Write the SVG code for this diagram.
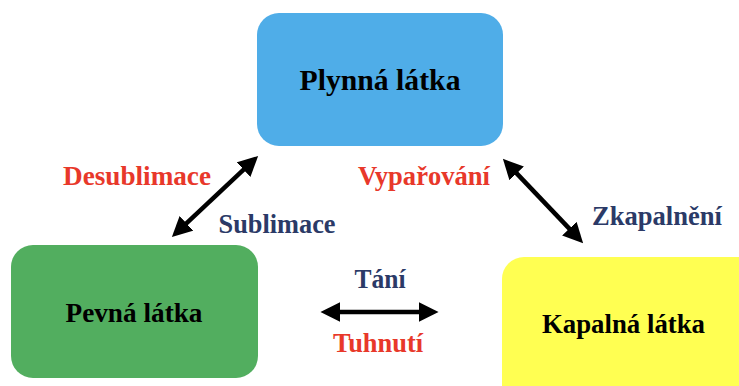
<svg xmlns="http://www.w3.org/2000/svg" width="739" height="386" viewBox="0 0 739 386">
<style>
.t{font-family:"Liberation Serif","Times New Roman",serif;font-weight:bold;text-anchor:middle}
.node{fill:#000;font-size:28px}
.red{fill:#E8382A;font-size:27px}
.navy{fill:#2B3A67;font-size:27px}
.arr{stroke:#000;stroke-width:4.5;fill:none}
</style>
<defs>
<marker id="ah" markerUnits="userSpaceOnUse" markerWidth="20" markerHeight="20" viewBox="0 0 18 18" refX="4" refY="9" orient="auto-start-reverse">
<path d="M0,0 L18,9 L0,18 z" fill="#000"/>
</marker>
</defs>
<rect width="739" height="386" fill="#fff"/>
<g id="plynna">
<rect x="257" y="13" width="246" height="133" rx="22" fill="#4FADE8"/>
<text class="t node" x="380" y="90" style="font-size:30px" textLength="161" lengthAdjust="spacingAndGlyphs">Plynná látka</text>
</g>
<g id="pevna">
<rect x="11" y="245" width="247" height="133" rx="22" fill="#52AE5F"/>
<text class="t node" x="134" y="322" textLength="137" lengthAdjust="spacingAndGlyphs">Pevná látka</text>
</g>
<g id="kapalna">
<rect x="502" y="257" width="260" height="150" rx="22" fill="#FFFF52"/>
<text class="t node" x="623.5" y="333" textLength="163" lengthAdjust="spacingAndGlyphs">Kapalná látka</text>
</g>
<g id="connectors">
<line class="arr" x1="183.2" y1="226.4" x2="246.8" y2="166.6" marker-start="url(#ah)" marker-end="url(#ah)"/>
<line class="arr" x1="513.6" y1="170.1" x2="572.4" y2="231.9" marker-start="url(#ah)" marker-end="url(#ah)"/>
<line class="arr" x1="336" y1="312" x2="423" y2="312" marker-start="url(#ah)" marker-end="url(#ah)"/>
</g>
<g id="labels">
<text class="t red" x="137" y="185" textLength="148" lengthAdjust="spacingAndGlyphs">Desublimace</text>
<text class="t navy" x="277" y="233" textLength="117" lengthAdjust="spacingAndGlyphs">Sublimace</text>
<text class="t red" x="424" y="185" textLength="132" lengthAdjust="spacingAndGlyphs">Vypařování</text>
<text class="t navy" x="657" y="225" textLength="130" lengthAdjust="spacingAndGlyphs">Zkapalnění</text>
<text class="t navy" x="380" y="288" textLength="51" lengthAdjust="spacingAndGlyphs">Tání</text>
<text class="t red" x="378" y="352" textLength="90" lengthAdjust="spacingAndGlyphs">Tuhnutí</text>
</g>
</svg>
